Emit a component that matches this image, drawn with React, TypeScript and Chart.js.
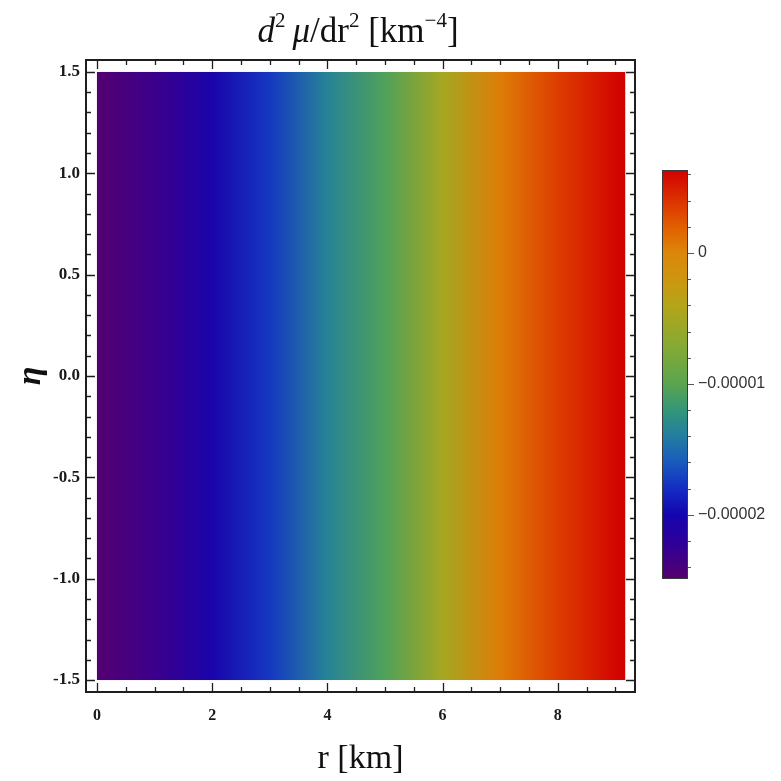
import React, { useEffect, useRef } from "react";
import { Chart, registerables } from "chart.js";

Chart.register(...registerables);

// d²μ/dr² (km^-4) versus r (km); the field does not depend on η
const rKm = [0, 1, 2, 3, 4, 5, 6, 7, 8, 9, 9.17];
const d2mu = [-2.48e-5, -2.3e-5, -2.05e-5, -1.75e-5, -1.35e-5, -1.05e-5, -0.5e-5, 0.05e-5, 0.35e-5, 0.6e-5, 0.63e-5];
const etaMin = -1.5;
const etaMax = 1.5;

const xMajorTicks = [0, 2, 4, 6, 8];
const xMinorTicks = [0.5, 1, 1.5, 2.5, 3, 3.5, 4.5, 5, 5.5, 6.5, 7, 7.5, 8.5, 9];
const yMajorTicks = [-1.5, -1.0, -0.5, 0, 0.5, 1.0, 1.5];
const yMinorTicks = [-1.4, -1.3, -1.2, -1.1, -0.9, -0.8, -0.7, -0.6, -0.4, -0.3, -0.2, -0.1, 0.1, 0.2, 0.3, 0.4, 0.6, 0.7, 0.8, 0.9, 1.1, 1.2, 1.3, 1.4];

const cbMin = -2.49e-5;
const cbMax = 0.634e-5;
const cbMajorTicks = [0, -0.00001, -0.00002];
const cbMajorLabels = ["0", "\u22120.00001", "\u22120.00002"];
const cbMinorTicks = [0.000006, 0.000004, 0.000002, -0.000002, -0.000004, -0.000006, -0.000008, -0.000012, -0.000014, -0.000016, -0.000018, -0.000022, -0.000024];

// colour map (value in units of 1e-5 -> rgb)
const cmapValues = [-2.49, -2.2, -2.0, -1.8, -1.6, -1.4, -1.2, -1.0, -0.7, -0.4, -0.2, 0, 0.2, 0.4, 0.634];
const cmapColors: number[][] = [
  [85, 0, 110], [45, 0, 155], [20, 5, 175], [20, 45, 195], [25, 90, 190],
  [35, 125, 160], [50, 150, 120], [90, 165, 80], [135, 170, 50], [180, 165, 25],
  [205, 150, 15], [220, 135, 10], [225, 95, 0], [220, 50, 0], [210, 0, 0],
];

function rgb(c: number[]) {
  return `rgb(${Math.round(c[0])},${Math.round(c[1])},${Math.round(c[2])})`;
}
function colorAt(v: number): string {
  const u = v * 1e5;
  if (u <= cmapValues[0]) return rgb(cmapColors[0]);
  if (u >= cmapValues[cmapValues.length - 1]) return rgb(cmapColors[cmapColors.length - 1]);
  let i = 0;
  while (i < cmapValues.length - 2 && u > cmapValues[i + 1]) i++;
  const t = (u - cmapValues[i]) / (cmapValues[i + 1] - cmapValues[i]);
  const a = cmapColors[i], b = cmapColors[i + 1];
  return rgb([a[0] + (b[0] - a[0]) * t, a[1] + (b[1] - a[1]) * t, a[2] + (b[2] - a[2]) * t]);
}

const SERIF = "'Liberation Serif', 'DejaVu Serif', serif";
const FRAME = "#1e1e1e";

const heatPlugin = {
  id: "heat",
  beforeDatasetsDraw(chart: any) {
    const { ctx } = chart;
    const xs = chart.scales.x, ys = chart.scales.y;
    const pts = chart.data.datasets[0].data as any[];
    const x0 = xs.getPixelForValue(pts[0].x);
    const x1 = xs.getPixelForValue(pts[pts.length - 1].x);
    const yTop = ys.getPixelForValue(etaMax);
    const yBot = ys.getPixelForValue(etaMin);
    const g = ctx.createLinearGradient(x0, 0, x1, 0);
    pts.forEach((p) => {
      const f = (xs.getPixelForValue(p.x) - x0) / (x1 - x0);
      g.addColorStop(Math.min(1, Math.max(0, f)), colorAt(p.v));
    });
    ctx.save();
    ctx.fillStyle = g;
    ctx.fillRect(x0, yTop, x1 - x0, yBot - yTop);
    ctx.restore();
  },
  afterDraw(chart: any) {
    const { ctx, chartArea: a } = chart;
    const xs = chart.scales.x, ys = chart.scales.y;
    ctx.save();
    ctx.strokeStyle = FRAME;
    ctx.lineWidth = 1.3;
    ctx.beginPath();
    const tick = (vals: number[], len: number) => {
      vals.forEach((v) => {
        const px = Math.round(xs.getPixelForValue(v)) + 0.5;
        ctx.moveTo(px, a.bottom); ctx.lineTo(px, a.bottom - len);
        ctx.moveTo(px, a.top); ctx.lineTo(px, a.top + len);
      });
    };
    const tickY = (vals: number[], len: number) => {
      vals.forEach((v) => {
        const py = Math.round(ys.getPixelForValue(v)) + 0.5;
        ctx.moveTo(a.left, py); ctx.lineTo(a.left + len, py);
        ctx.moveTo(a.right, py); ctx.lineTo(a.right - len, py);
      });
    };
    tick(xMajorTicks, 9);
    tick(xMinorTicks, 5);
    tickY(yMajorTicks, 9);
    tickY(yMinorTicks, 5);
    ctx.stroke();
    ctx.lineWidth = 2;
    ctx.strokeRect(a.left, a.top, a.right - a.left, a.bottom - a.top);

    // title  d²μ/dr² [km⁻⁴]
    const big = 35, small = 21;
    const parts: { t: string; f: string; sup?: boolean }[] = [
      { t: "d", f: `italic ${big}px ${SERIF}` },
      { t: "2", f: `${small}px ${SERIF}`, sup: true },
      { t: "\u2009", f: `${big}px ${SERIF}` },
      { t: "\u03bc", f: `italic ${big}px ${SERIF}` },
      { t: "/dr", f: `${big}px ${SERIF}` },
      { t: "2", f: `${small}px ${SERIF}`, sup: true },
      { t: " [km", f: `${big}px ${SERIF}` },
      { t: "\u22124", f: `${small}px ${SERIF}`, sup: true },
      { t: "]", f: `${big}px ${SERIF}` },
    ];
    let total = 0;
    const widths = parts.map((p) => { ctx.font = p.f; const w = ctx.measureText(p.t).width; total += w; return w; });
    let x = 358 - total / 2;
    const base = 42;
    ctx.fillStyle = "#111";
    ctx.textBaseline = "alphabetic";
    ctx.textAlign = "left";
    parts.forEach((p, i) => {
      ctx.font = p.f;
      ctx.fillText(p.t, x, p.sup ? base - 15 : base);
      x += widths[i];
    });
    ctx.restore();
  },
};

const cbPlugin = {
  id: "cb",
  beforeDatasetsDraw(chart: any) {
    const { ctx, chartArea: a } = chart;
    const ys = chart.scales.y;
    const yb = ys.getPixelForValue(cbMin), yt = ys.getPixelForValue(cbMax);
    const g = ctx.createLinearGradient(0, yb, 0, yt);
    cmapValues.forEach((u, i) => {
      const f = (ys.getPixelForValue(u * 1e-5) - yb) / (yt - yb);
      g.addColorStop(Math.min(1, Math.max(0, f)), rgb(cmapColors[i]));
    });
    ctx.save();
    ctx.fillStyle = g;
    ctx.fillRect(a.left, yt, a.right - a.left, yb - yt);
    ctx.strokeStyle = "#3a3a3a";
    ctx.lineWidth = 1;
    ctx.strokeRect(a.left + 0.5, yt + 0.5, a.right - a.left - 1, yb - yt - 1);
    ctx.beginPath();
    ctx.strokeStyle = "#555";
    cbMajorTicks.forEach((v) => {
      const py = Math.round(ys.getPixelForValue(v)) + 0.5;
      ctx.moveTo(a.right, py); ctx.lineTo(a.right + 6, py);
    });
    cbMinorTicks.forEach((v) => {
      const py = Math.round(ys.getPixelForValue(v)) + 0.5;
      ctx.moveTo(a.right, py); ctx.lineTo(a.right + 3, py);
    });
    ctx.stroke();
    ctx.restore();
  },
};

export default function App() {
  const mainRef = useRef<HTMLCanvasElement>(null);
  const cbRef = useRef<HTMLCanvasElement>(null);

  useEffect(() => {
    const main = new Chart(mainRef.current!, {
      type: "scatter",
      data: {
        datasets: [
          {
            data: rKm.map((r, i) => ({ x: r, y: 0, v: d2mu[i] })) as any,
            pointRadius: 0,
            showLine: false,
          },
        ],
      },
      options: {
        animation: false,
        responsive: false,
        devicePixelRatio: 1,
        layout: { padding: { top: 60, right: 146, left: 0, bottom: 0 } },
        plugins: { legend: { display: false }, tooltip: { enabled: false }, title: { display: false } },
        scales: {
          x: {
            type: "linear",
            min: -0.19,
            max: 9.34,
            grid: { display: false, drawTicks: false },
            border: { display: false },
            afterBuildTicks: (s: any) => { s.ticks = xMajorTicks.map((v) => ({ value: v })); },
            afterFit: (s: any) => { s.height = 89; },
            ticks: {
              padding: 14,
              color: "#1a1a1a",
              font: { family: SERIF, size: 16, weight: "bold" },
              callback: (v: any) => String(v),
            },
            title: {
              display: true,
              text: "r [km]",
              color: "#111",
              font: { family: SERIF, size: 34 },
              padding: { top: 0, bottom: 2 },
            },
          },
          y: {
            type: "linear",
            min: -1.559,
            max: 1.559,
            grid: { display: false, drawTicks: false },
            border: { display: false },
            afterBuildTicks: (s: any) => { s.ticks = yMajorTicks.map((v) => ({ value: v })); },
            afterFit: (s: any) => { s.width = 86; },
            ticks: {
              padding: 6,
              color: "#1a1a1a",
              font: { family: SERIF, size: 17, weight: "bold" },
              callback: (v: any) => Number(v).toFixed(1),
            },
            title: {
              display: true,
              text: "\u03b7",
              color: "#111",
              font: { family: SERIF, size: 34, style: "italic", weight: "bold" },
              padding: { top: 11, bottom: 0 },
            },
          },
        },
      } as any,
      plugins: [heatPlugin],
    });

    const cb = new Chart(cbRef.current!, {
      type: "scatter",
      data: { datasets: [{ data: [], pointRadius: 0 }] },
      options: {
        animation: false,
        responsive: false,
        devicePixelRatio: 1,
        layout: { padding: { top: 20, left: 22, bottom: 21, right: 0 } },
        plugins: { legend: { display: false }, tooltip: { enabled: false } },
        scales: {
          x: { display: false, min: 0, max: 1 },
          y: {
            position: "right",
            min: cbMin,
            max: cbMax,
            grid: { display: false, drawTicks: false },
            border: { display: false },
            afterBuildTicks: (s: any) => { s.ticks = cbMajorTicks.map((v) => ({ value: v })); },
            afterFit: (s: any) => { s.width = 93; },
            ticks: {
              padding: 10,
              color: "#333",
              font: { family: "'Liberation Sans', 'DejaVu Sans', sans-serif", size: 16 },
              callback: (_v: any, i: number) => cbMajorLabels[i],
            },
          },
        },
      } as any,
      plugins: [cbPlugin],
    });

    return () => {
      main.destroy();
      cb.destroy();
    };
  }, []);

  return (
    <div style={{ position: "absolute", left: 0, top: 0, width: 781, height: 781, background: "#fff" }}>
      <canvas ref={mainRef} width={781} height={781} style={{ position: "absolute", left: 0, top: 0, width: 781, height: 781 }} />
      <canvas ref={cbRef} width={141} height={450} style={{ position: "absolute", left: 640, top: 150, width: 141, height: 450 }} />
    </div>
  );
}
